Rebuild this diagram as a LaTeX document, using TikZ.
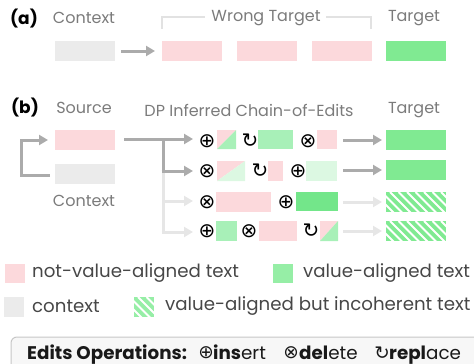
\documentclass[tikz,border=0pt]{standalone}
\usepackage{fontspec}
\setmainfont{Poppins}
\newfontfamily\symfont{DejaVu Sans}
\usetikzlibrary{arrows.meta}
\definecolor{pk}{HTML}{FCD9DC}
\definecolor{gtarget}{HTML}{80EA92}
\definecolor{glight}{HTML}{A8F0B8}
\definecolor{gvlight}{HTML}{DCF8E2}
\definecolor{gbright}{HTML}{73E68A}
\definecolor{glegend}{HTML}{96EEA6}
\definecolor{ctx}{HTML}{EBEBEB}
\definecolor{arrdark}{HTML}{ABABAB}
\definecolor{arrlight}{HTML}{E6E6E6}
\definecolor{brk}{HTML}{E2E2E2}
\definecolor{headgray}{HTML}{7B7B7B}
\definecolor{leggray}{HTML}{474747}
\tikzset{
  blk/.style={draw=none, fill=#1, inner sep=0pt, outer sep=0pt, anchor=north west},
  split/.style 2 args={draw=none, inner sep=0pt, outer sep=0pt, anchor=north west,
    path picture={
      \fill[#1] (path picture bounding box.north west) -- (path picture bounding box.north east) -- (path picture bounding box.south west) -- cycle;
      \fill[#2] (path picture bounding box.north east) -- (path picture bounding box.south east) -- (path picture bounding box.south west) -- cycle;}},
  hatch/.style={draw=none, fill=gtarget, inner sep=0pt, outer sep=0pt, anchor=north west,
    path picture={
      \foreach \i in {-30,-21.5,...,70} {\draw[white, line width=2pt] ([xshift=\i pt]path picture bounding box.north west) -- ++(30pt,-30pt);}}},
  head/.style={text=headgray, font=\fontsize{16}{18}\selectfont, inner sep=0pt},
  lbl/.style={text=black, font=\fontsize{17}{19}\selectfont\bfseries, inner sep=0pt},
  leg/.style={text=leggray, font=\fontsize{18.2}{20}\selectfont, inner sep=0pt, anchor=west},
  sym/.style={font=\symfont\fontsize{20}{22}\selectfont, inner sep=0pt},
  opw/.style={font=\fontsize{18.3}{20}\selectfont, text=black!90, inner sep=0pt, anchor=base west},
  ops/.style={font=\symfont\fontsize{18.5}{20}\selectfont, text=black!90, inner sep=0pt},
  arrd/.style={draw=arrdark, line width=3pt, -{Triangle[length=9pt,width=10pt]}},
  arrl/.style={draw=arrlight, line width=3pt, -{Triangle[length=9pt,width=10pt]}},
  lined/.style={draw=arrdark, line width=3pt},
  linel/.style={draw=arrlight, line width=3pt},
}
\begin{document}
\begin{tikzpicture}[x=1pt,y=-1pt]
\useasboundingbox (0,0) rectangle (474,364);
% ---------- (a)
\node[lbl] (la) at (24,19) {(a)};
\node[head] (hctx) at (84,18) {Context};
\node[head] (hwrong) at (266,18) {Wrong Target};
\node[head] (htgt) at (414,18) {Target};
\draw[brk, line width=2pt] (205,17) -- (162,17) -- (162,29);
\draw[brk, line width=2pt] (326,17) -- (371,17) -- (371,29);
\node[blk=ctx, minimum width=60pt, minimum height=20pt] (actx) at (55,41) {};
\node[blk=pk, minimum width=60pt, minimum height=20pt] (aw1) at (162,41) {};
\node[blk=pk, minimum width=60pt, minimum height=20pt] (aw2) at (237,41) {};
\node[blk=pk, minimum width=60pt, minimum height=20pt] (aw3) at (312,41) {};
\node[blk=gtarget, minimum width=60pt, minimum height=20pt] (atgt) at (386,41) {};
\draw[arrd] ([xshift=6pt]actx.east) -- ([xshift=-7pt]aw1.west);
% ---------- (b)
\node[lbl] (lb) at (25,108) {(b)};
\node[head] (hsrc) at (84,108) {Source};
\node[head] (hdp) at (249,110) {DP Inferred Chain-of-Edits};
\node[head] (htgt2) at (414,110) {Target};
\node[blk=pk, minimum width=60pt, minimum height=20pt] (src) at (55,130) {};
\node[blk=ctx, minimum width=60pt, minimum height=20pt] (bctx) at (55,164) {};
\node[head] (hctx2) at (84,201) {Context};
\coordinate (lp) at (21,140);
\draw[arrd] ([xshift=-5pt,yshift=-1pt]bctx.west) -| (lp) -- ([xshift=-7pt]src.west);
% rows symbols
\node[sym] (s11) at (207,141) {⊕};
\node[split={pk}{glight}, minimum width=19pt, minimum height=19pt] (r11) at (217,130) {};
\node[sym] (s12) at (250,141) {↻};
\node[blk=glight, minimum width=35pt, minimum height=19pt] (r12) at (258,130) {};
\node[sym] (s13) at (308,141) {⊗};
\node[blk=pk, minimum width=20pt, minimum height=19pt] (r13) at (317,130) {};
\node[blk=gtarget, minimum width=60pt, minimum height=20pt] (t1) at (386,130) {};

\node[sym] (s21) at (207,171) {⊗};
\node[split={pk}{gvlight}, minimum width=28pt, minimum height=20pt] (r21) at (217,161) {};
\node[sym] (s22) at (260,171) {↻};
\node[blk=pk, minimum width=15pt, minimum height=20pt] (r22) at (268,161) {};
\node[sym] (s23) at (298,171) {⊕};
\node[blk=gvlight, minimum width=31pt, minimum height=20pt] (r23) at (306,161) {};
\node[blk=gtarget, minimum width=60pt, minimum height=20pt] (t2) at (386,160) {};

\node[sym] (s31) at (207,202) {⊗};
\node[blk=pk, minimum width=55pt, minimum height=20pt] (r31) at (216,192) {};
\node[sym] (s32) at (286,202) {⊕};
\node[blk=gbright, minimum width=42pt, minimum height=19pt] (r32) at (296,192) {};
\node[hatch, minimum width=60pt, minimum height=20pt] (t3) at (386,192) {};

\node[sym] (s41) at (207,231) {⊕};
\node[blk=glight, minimum width=21pt, minimum height=20pt] (r41) at (216,221) {};
\node[sym] (s42) at (249,231) {⊗};
\node[blk=pk, minimum width=38pt, minimum height=20pt] (r42) at (259,221) {};
\node[sym] (s43) at (311,231) {↻};
\node[split={pk}{glight}, minimum width=18pt, minimum height=20pt] (r43) at (320,221) {};
\node[hatch, minimum width=60pt, minimum height=20pt] (t4) at (386,221) {};
% branch arrows
\coordinate (st) at (124,139);
\coordinate (bj) at (163,139);
\coordinate (bj2) at (163,171);
\coordinate (bj3) at (163,201);
\coordinate (bj4) at (163,232);
\draw[linel] (bj2) -- (bj4);
\draw[arrl] (bj3) -- (193,201);
\draw[arrl] ([xshift=-1.5pt]bj4) -- (193,232);
\draw[lined] (bj) -- ([yshift=1.5pt]bj2);
\draw[arrd] ([xshift=-1.5pt]bj2) -- (193,171);
\draw[arrd] ([xshift=9pt]src.east |- st) -- (193,139);
% to targets
\draw[arrd] (343,140) -- ([xshift=-4pt]t1.west);
\draw[arrd] (343,170) -- ([xshift=-4pt]t2.west);
\draw[arrl] (343,202) -- ([xshift=-4pt]t3.west);
\draw[arrl] (343,231) -- ([xshift=-4pt]t4.west);
% ---------- legend
\node[blk=pk, minimum width=20pt, minimum height=19pt] (lg1) at (5,264) {};
\node[leg] (lt1) at (32,273) {not-value-aligned text};
\node[blk=glegend, minimum width=20pt, minimum height=19pt] (lg2) at (273,264) {};
\node[leg] (lt2) at (303,273) {value-aligned text};
\node[blk=ctx, minimum width=20pt, minimum height=20pt] (lg3) at (4,297) {};
\node[leg] (lt3) at (32,306) {context};
\node[hatch, fill=glegend, minimum width=20pt, minimum height=20pt] (lg4) at (134,297) {};
\node[leg] (lt4) at (165,306) {value-aligned but incoherent text};
% ---------- bottom box
\draw[draw=black!22, fill=black!3, line width=1pt, rounded corners=6pt] (11,337) rectangle (490,380);
\node[opw] (opt) at (27,359) {\bfseries Edits Operations:};
\node[ops] (o1) at (206,353) {⊕};
\node[opw] (w1) at (213,359) {\textbf{ins}ert};
\node[ops] (o2) at (291,353) {⊗};
\node[opw] (w2) at (299,359) {\textbf{del}ete};
\node[ops] (o3) at (382,353) {↻};
\node[opw] (w3) at (389,359) {\textbf{repl}ace};
\end{tikzpicture}
\end{document}
